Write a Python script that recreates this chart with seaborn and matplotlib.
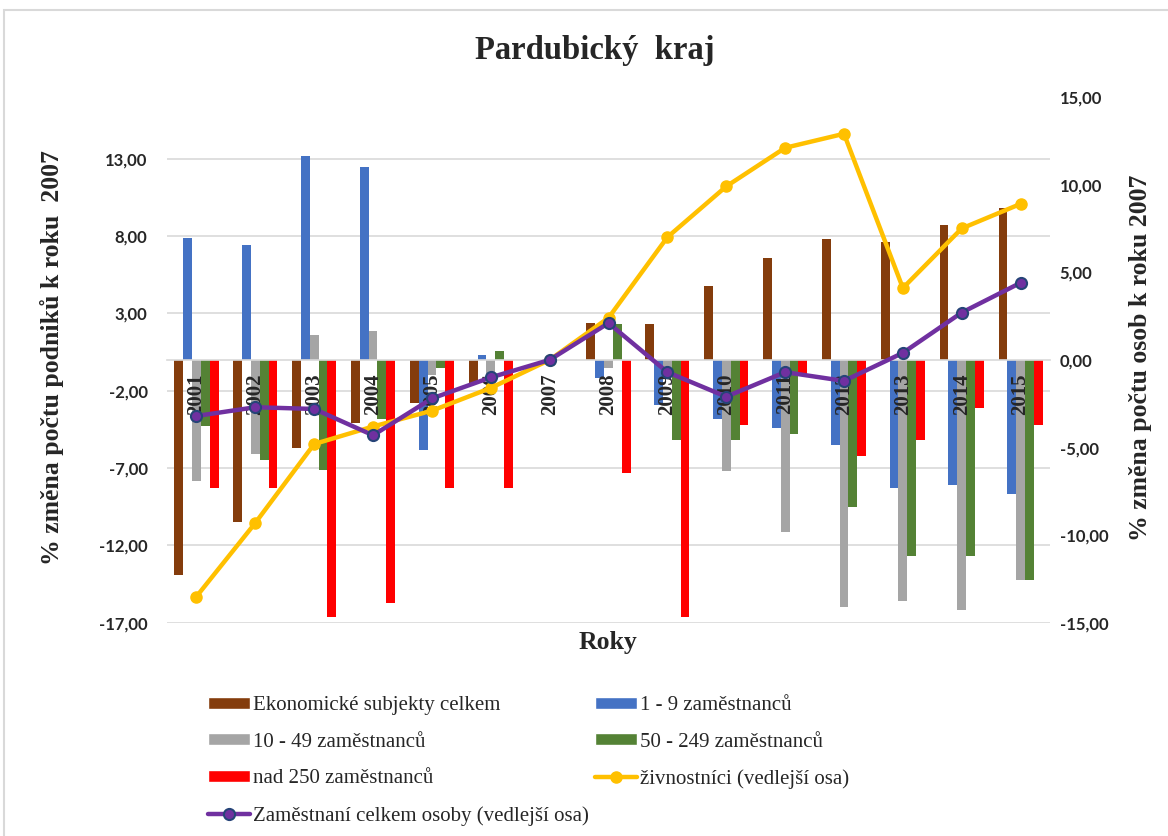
import numpy as np
import pandas as pd
import seaborn as sns
import matplotlib.pyplot as plt
from matplotlib.patches import Patch, Rectangle
from matplotlib.lines import Line2D
from matplotlib.ticker import FixedLocator, FuncFormatter

# data
roky = ['2001', '2002', '2003', '2004', '2005', '2006', '2007', '2008',
        '2009', '2010', '2011', '2012', '2013', '2014', '2015']
ekonomicke = [-13.9, -10.5, -5.7, -4.1, -2.8, -1.5, 0, 2.4, 2.3, 4.8, 6.6, 7.8, 7.6, 8.7, 9.8]
z1_9 = [7.9, 7.4, 13.2, 12.5, -5.8, 0.3, 0, -1.2, -2.9, -3.8, -4.4, -5.5, -8.3, -8.1, -8.7]
z10_49 = [-7.8, -6.1, 1.6, 1.9, -1.0, -1.0, 0, -0.5, -0.7, -7.2, -11.1, -16.0, -15.6, -16.2, -14.2]
z50_249 = [-4.3, -6.5, -7.1, -3.8, -0.5, 0.6, 0, 2.3, -5.2, -5.2, -4.8, -9.5, -12.7, -12.7, -14.2]
z250 = [-8.3, -8.3, -16.6, -15.7, -8.3, -8.3, 0, -7.3, -16.6, -4.2, -1.0, -6.2, -5.2, -3.1, -4.2]
zivnostnici = [-13.5, -9.3, -4.8, -3.8, -2.9, -1.6, 0, 2.4, 7.0, 9.9, 12.1, 12.9, 4.1, 7.5, 8.9]
zamestnani = [-3.2, -2.7, -2.8, -4.3, -2.2, -1.0, 0, 2.1, -0.7, -2.1, -0.7, -1.2, 0.4, 2.7, 4.4]

serie = ['Ekonomické subjekty celkem', '1 - 9 zaměstnanců', '10 - 49 zaměstnanců',
         '50 - 249 zaměstnanců', 'nad 250 zaměstnanců']
barvy = ['#843C0C', '#4472C4', '#A5A5A5', '#548235', '#FF0000']
label_ziv = 'živnostníci (vedlejší osa)'
label_zam = 'Zaměstnaní celkem osoby (vedlejší osa)'

# long format pro seaborn
hodnoty = [ekonomicke, z1_9, z10_49, z50_249, z250]
df = pd.DataFrame({
    'rok': roky * len(serie),
    'serie': np.repeat(serie, len(roky)),
    'hodnota': np.concatenate(hodnoty),
})

sns.set_theme(style='white')
plt.rcParams['font.family'] = ['Liberation Serif', 'DejaVu Serif']
serif = 'Liberation Serif'
cisla = 'Lato'

fig = plt.figure(figsize=(11.68, 8.36), dpi=100)
fig.patches.append(Rectangle((4 / 1168, -0.05), 1.1, 1 - 10 / 836 + 0.05,
                             transform=fig.transFigure, fill=False,
                             edgecolor='#D9D9D9', linewidth=1.5, zorder=0))

ax = fig.add_axes([0.143, 0.255, 0.756, 0.629])
sns.barplot(data=df, x='rok', y='hodnota', hue='serie', hue_order=serie,
            palette=barvy, width=0.75, saturation=1, linewidth=0,
            ax=ax, legend=False)

ax.set_ylim(-17, 17)
ax.set_xlim(-0.5, len(roky) - 0.5)
ax.yaxis.set_major_locator(FixedLocator(np.arange(-17, 14, 5)))
ax.yaxis.set_major_formatter(FuncFormatter(lambda v, p: f'{v:.2f}'.replace('.', ',')))
ax.grid(axis='y', color='#D9D9D9', linewidth=1.2)
ax.set_axisbelow(True)
for s in ['top', 'left', 'right']:
    ax.spines[s].set_visible(False)
ax.spines['bottom'].set_position(('data', 0))
ax.spines['bottom'].set_color('#D9D9D9')
ax.spines['bottom'].set_linewidth(1.2)
ax.tick_params(axis='x', length=0, labelbottom=False)
ax.tick_params(axis='y', length=0, pad=14)
for t in ax.get_yticklabels():
    t.set_fontfamily(cisla)
    t.set_fontweight('bold')
    t.set_fontsize(12)
ax.set_xlabel('')
ax.set_ylabel('')

# popisky let u nulové osy, nad sloupci
for pos, rok in zip(ax.get_xticks(), roky):
    ax.annotate(rok, xy=(pos, 0), xytext=(0, -10), textcoords='offset points',
                rotation=90, ha='center', va='top', fontsize=15,
                fontweight='bold', family=serif, zorder=5)

# vedlejší osa
ax2 = ax.twinx()
x = np.arange(len(roky))
ax2.plot(x, zivnostnici, color='#FFC000', linewidth=3.2, marker='o',
         markersize=8, markerfacecolor='#FFC000', markeredgecolor='#FFC000')
ax2.plot(x, zamestnani, color='#7030A0', linewidth=3.2, marker='o',
         markersize=8, markerfacecolor='#7030A0', markeredgecolor='#264478',
         markeredgewidth=1.5)
ax2.set_ylim(-15, 15)
ax2.yaxis.set_major_locator(FixedLocator(np.arange(-15, 16, 5)))
ax2.yaxis.set_major_formatter(FuncFormatter(lambda v, p: f'{v:.2f}'.replace('.', ',')))
for s in ['top', 'left', 'right', 'bottom']:
    ax2.spines[s].set_visible(False)
ax2.tick_params(axis='y', length=0, pad=7)
ax2.grid(False)
for t in ax2.get_yticklabels():
    t.set_fontfamily(cisla)
    t.set_fontweight('bold')
    t.set_fontsize(12)

fig.text(0.509, 0.94, 'Pardubický  kraj', ha='center', va='center',
         fontsize=23.5, fontweight='bold', family=serif)
fig.text(52 / 1168, 1 - 358 / 836, '% změna počtu podniků k roku  2007', rotation=90,
         ha='center', va='center', fontsize=18.5, fontweight='bold', family=serif)
fig.text(1140 / 1168, 1 - 358 / 836, '% změna počtu osob k roku 2007', rotation=90,
         ha='center', va='center', fontsize=18.5, fontweight='bold', family=serif)
fig.text(608 / 1168, 1 - 643 / 836, 'Roky', ha='center', va='center',
         fontsize=18.5, fontweight='bold', family=serif)

# legenda - pořadí po sloupcích
h = [Patch(facecolor=c, label=s) for s, c in zip(serie, barvy)]
h_ziv = Line2D([], [], color='#FFC000', linewidth=3.2, marker='o', markersize=8, label=label_ziv)
h_zam = Line2D([], [], color='#7030A0', linewidth=3.2, marker='o', markersize=8,
               markeredgecolor='#264478', markeredgewidth=1.5, label=label_zam)
handles = [h[0], h[2], h[4], h_zam, h[1], h[3], h_ziv]
fig.legend(handles=handles, loc='upper left', bbox_to_anchor=(208 / 1168, 1 - 696 / 836),
           ncol=2, frameon=False, borderpad=0, borderaxespad=0,
           prop={'family': serif, 'size': 15}, handlelength=2.0, handleheight=0.5,
           handletextpad=0.15, columnspacing=0.3, labelspacing=0.85)

fig.savefig('out.png', dpi=100)
